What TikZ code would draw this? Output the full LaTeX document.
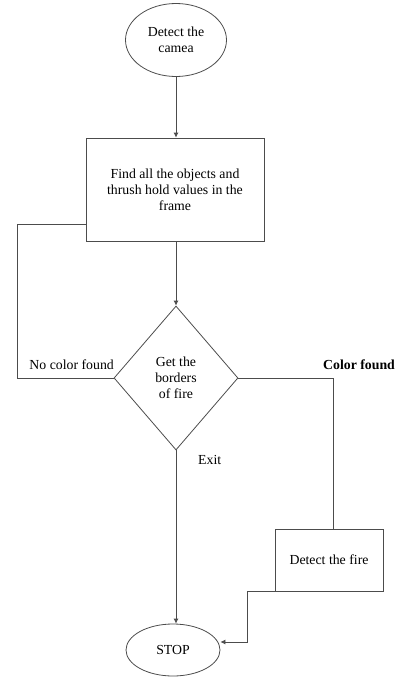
\documentclass[tikz,border=0pt]{standalone}
\usepackage{fontspec}
\setmainfont{Liberation Serif}
\usetikzlibrary{shapes.geometric,arrows.meta}

\begin{document}
\begin{tikzpicture}[x=1pt, y=-1pt,
  every node/.style={font=\fontsize{13.8}{16}\selectfont, align=center},
  line/.style={draw=black!70, line width=0.8pt},
  arr/.style={line, -{Latex[length=5pt,width=5pt]}},
  oval/.style={line, ellipse, inner sep=0pt},
  box/.style={line, rectangle, inner sep=0pt},
  gate/.style={line, diamond, inner sep=0pt},
  lbl/.style={inner sep=0pt}]
  \useasboundingbox (0,0) rectangle (396,678);

  \node[oval, minimum width=101pt, minimum height=73pt] (camera) at (176,40)
  {Detect the\\camea};
  \node[box, minimum width=178pt, minimum height=103pt] (find) at (175,189.5)
  {Find all the objects and\\thrush hold values in the\\frame};
  \node[gate, minimum width=124pt, minimum height=144pt] (borders) at (176,378)
  {Get the\\borders\\of fire};
  \node[box, minimum width=108pt, minimum height=62pt] (fire) at (329,560)
  {Detect the fire};
  \node[oval, minimum width=94pt, minimum height=52pt] (stop) at (173,650)
  {STOP};

  \draw[arr] (camera.south) -- (camera.south |- find.north);
  \draw[arr] (borders.north |- find.south) -- (borders.north);
  \draw[arr] (borders.south) -- (borders.south |- stop.north);

  % loop back when nothing is found
  \coordinate (back) at (17,224);
  \draw[line] (find.west |- back) -- (back) |- (borders.west);

  \draw[line] (borders.east) -| ([xshift=4pt]fire.north);
  \coordinate (turn) at (247,642);
  \draw[arr] (fire.south west) -| (turn) -- (turn -| stop.east);

  \node[lbl, anchor=base east] (nocolor) at (114,369) {No color found};
  \node[lbl, anchor=base west, font=\fontsize{13.8}{16}\selectfont\bfseries]
  (color) at (323,369) {Color found};
  \node[lbl, anchor=base west] (exit) at (198,464) {Exit};

\end{tikzpicture}
\end{document}
